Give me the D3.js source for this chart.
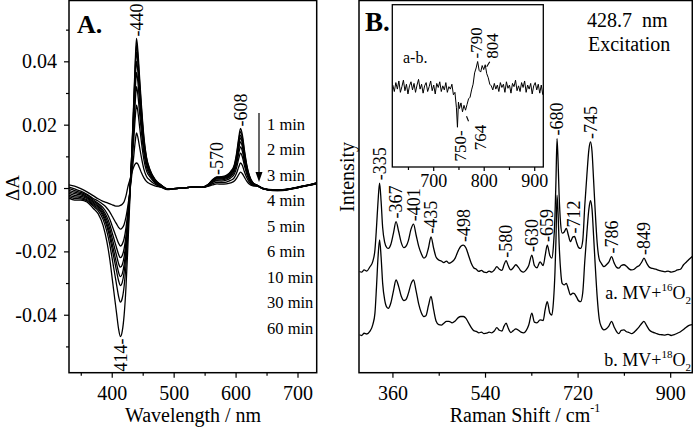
<!DOCTYPE html>
<html><head><meta charset="utf-8">
<script src="https://cdn.jsdelivr.net/npm/d3@7"></script>
<style>
body{margin:0;background:#fff;}
svg text{font-family:"Liberation Serif","Times New Roman",serif;fill:#000;}
</style></head><body>
<svg id="chart" width="693" height="428"></svg>
<script>
// ---------------- DATA ----------------
// Panel A: difference absorbance spectra (wavelength nm)
const wavelengths = [331,340,350,360,370,378,386,392,397,401,405,408,411,414,417,420,423,426,429,432,
  435,438,440,442,445,448,452,456,462,470,480,490,500,515,530,545,555,563,570,577,
  585,592,598,602,605,608,611,614,618,622,628,636,645,660,675,690,705,720,731];
const timeLabels = ["1 min","2 min","3 min","4 min","5 min","6 min","10 min","30 min","60 min"];
const dA1 = [0.0010,0.0006,-0.0002,-0.0012,-0.0024,-0.0034,-0.0042,-0.0046,-0.0050,-0.0053,
  -0.0056,-0.0057,-0.0057,-0.0055,-0.0051,-0.0043,-0.0025,0.0003,0.0024,0.0045,
  0.0064,0.0076,0.0079,0.0076,0.0063,0.0048,0.0032,0.0021,0.0013,0.0007,
  0.0002,-0.0005,-0.0002,0.0000,0.0003,0.0002,0.0005,0.0010,0.0013,0.0012,
  0.0013,0.0016,0.0022,0.0032,0.0042,0.0050,0.0045,0.0035,0.0022,0.0013,
  0.0007,0.0005,-0.0001,-0.0005,-0.0005,-0.0001,0.0005,0.0011,0.0016];
const dA2 = [0.0003,-0.0003,-0.0010,-0.0020,-0.0033,-0.0041,-0.0052,-0.0063,-0.0076,-0.0090,
  -0.0104,-0.0114,-0.0124,-0.0130,-0.0126,-0.0115,-0.0092,-0.0057,-0.0015,0.0034,
  0.0090,0.0148,0.0174,0.0162,0.0129,0.0096,0.0059,0.0037,0.0024,0.0012,
  0.0003,-0.0004,-0.0002,0.0000,0.0003,0.0002,0.0006,0.0014,0.0018,0.0017,
  0.0019,0.0024,0.0033,0.0049,0.0066,0.0079,0.0071,0.0053,0.0033,0.0019,
  0.0009,0.0006,-0.0002,-0.0006,-0.0006,-0.0002,0.0004,0.0010,0.0015];
const dA3 = [-0.0002,-0.0008,-0.0014,-0.0023,-0.0037,-0.0048,-0.0062,-0.0079,-0.0099,-0.0121,
  -0.0143,-0.0159,-0.0174,-0.0183,-0.0177,-0.0160,-0.0126,-0.0077,-0.0017,0.0054,
  0.0136,0.0223,0.0262,0.0244,0.0194,0.0144,0.0089,0.0055,0.0034,0.0016,
  0.0005,-0.0004,-0.0002,0.0000,0.0003,0.0002,0.0007,0.0018,0.0023,0.0022,
  0.0025,0.0032,0.0044,0.0067,0.0092,0.0110,0.0098,0.0073,0.0044,0.0025,
  0.0011,0.0006,-0.0003,-0.0007,-0.0006,-0.0003,0.0003,0.0009,0.0014];
const dA4 = [-0.0007,-0.0013,-0.0018,-0.0027,-0.0041,-0.0052,-0.0070,-0.0091,-0.0116,-0.0143,
  -0.0170,-0.0190,-0.0209,-0.0220,-0.0213,-0.0191,-0.0151,-0.0091,-0.0018,0.0066,
  0.0166,0.0272,0.0320,0.0298,0.0237,0.0176,0.0109,0.0067,0.0040,0.0019,
  0.0006,-0.0003,-0.0002,0.0000,0.0003,0.0002,0.0008,0.0020,0.0026,0.0026,
  0.0029,0.0037,0.0052,0.0079,0.0109,0.0130,0.0116,0.0086,0.0052,0.0029,
  0.0013,0.0007,-0.0002,-0.0006,-0.0007,-0.0002,0.0004,0.0010,0.0015];
const dA5 = [-0.0012,-0.0018,-0.0022,-0.0030,-0.0045,-0.0057,-0.0076,-0.0101,-0.0130,-0.0161,
  -0.0192,-0.0215,-0.0238,-0.0250,-0.0242,-0.0217,-0.0170,-0.0102,-0.0020,0.0076,
  0.0190,0.0310,0.0365,0.0339,0.0270,0.0201,0.0124,0.0077,0.0045,0.0021,
  0.0007,-0.0003,-0.0002,0.0000,0.0003,0.0002,0.0009,0.0022,0.0029,0.0029,
  0.0032,0.0041,0.0058,0.0089,0.0122,0.0146,0.0130,0.0096,0.0058,0.0032,
  0.0014,0.0007,-0.0003,-0.0007,-0.0007,-0.0003,0.0003,0.0009,0.0014];
const dA6 = [-0.0017,-0.0023,-0.0026,-0.0033,-0.0049,-0.0061,-0.0083,-0.0111,-0.0144,-0.0179,
  -0.0214,-0.0240,-0.0266,-0.0280,-0.0271,-0.0242,-0.0190,-0.0113,-0.0022,0.0083,
  0.0208,0.0340,0.0400,0.0372,0.0296,0.0220,0.0136,0.0084,0.0049,0.0023,
  0.0008,-0.0003,-0.0002,0.0000,0.0003,0.0002,0.0009,0.0023,0.0031,0.0031,
  0.0034,0.0044,0.0063,0.0096,0.0132,0.0158,0.0141,0.0104,0.0063,0.0035,
  0.0015,0.0007,-0.0002,-0.0006,-0.0006,-0.0002,0.0004,0.0010,0.0016];
const dA10 = [-0.0022,-0.0028,-0.0030,-0.0037,-0.0053,-0.0065,-0.0089,-0.0120,-0.0157,-0.0196,
  -0.0235,-0.0264,-0.0292,-0.0308,-0.0298,-0.0266,-0.0209,-0.0123,-0.0025,0.0090,
  0.0224,0.0366,0.0430,0.0400,0.0318,0.0237,0.0146,0.0090,0.0052,0.0025,
  0.0009,-0.0003,-0.0002,0.0000,0.0003,0.0002,0.0009,0.0024,0.0032,0.0032,
  0.0036,0.0047,0.0066,0.0101,0.0140,0.0167,0.0149,0.0110,0.0066,0.0037,
  0.0015,0.0007,-0.0003,-0.0008,-0.0007,-0.0003,0.0003,0.0009,0.0015];
const dA30 = [-0.0027,-0.0033,-0.0034,-0.0040,-0.0057,-0.0071,-0.0099,-0.0136,-0.0180,-0.0226,
  -0.0273,-0.0307,-0.0341,-0.0360,-0.0348,-0.0310,-0.0243,-0.0144,-0.0032,0.0092,
  0.0235,0.0384,0.0452,0.0420,0.0334,0.0249,0.0154,0.0095,0.0055,0.0026,
  0.0009,-0.0003,-0.0002,0.0000,0.0003,0.0002,0.0010,0.0025,0.0034,0.0034,
  0.0038,0.0050,0.0070,0.0108,0.0149,0.0178,0.0159,0.0117,0.0070,0.0039,
  0.0016,0.0007,-0.0002,-0.0007,-0.0006,-0.0002,0.0004,0.0011,0.0015];
const dA60 = [-0.0032,-0.0038,-0.0038,-0.0044,-0.0064,-0.0081,-0.0118,-0.0168,-0.0227,-0.0289,
  -0.0352,-0.0398,-0.0444,-0.0469,-0.0452,-0.0402,-0.0314,-0.0188,-0.0049,0.0092,
  0.0245,0.0401,0.0472,0.0439,0.0349,0.0260,0.0160,0.0099,0.0057,0.0027,
  0.0009,-0.0003,-0.0002,0.0000,0.0003,0.0002,0.0010,0.0027,0.0035,0.0036,
  0.0040,0.0052,0.0074,0.0114,0.0157,0.0188,0.0167,0.0124,0.0074,0.0041,
  0.0017,0.0008,-0.0003,-0.0007,-0.0008,-0.0003,0.0003,0.0010,0.0016];
const peakLabelsA = [440, 570, 608];
const troughLabelsA = [414];
const xTicksA = [400,500,600,700], xMinorA = [350,450,550,650];
const yTicksA = [-0.04,-0.02,0.00,0.02,0.04], yMinorA = [-0.05,-0.03,-0.01,0.01,0.03,0.05];

// Panel B: resonance Raman spectra (arbitrary intensity units)
const ramanShift = [296,300,305,310,316,322,326,329,332,335,
  338,341,345,349,352,357,362,367,372,377,
  382,386,391,396,401,406,411,416,421,425,
  430,435,440,445,450,455,460,465,470,476,
  482,488,493,498,503,508,513,518,523,528,
  533,538,543,548,553,558,563,568,573,577,
  581,585,590,595,600,605,610,615,620,625,
  631,636,641,647,653,657,661,666,670,673,
  676,678,680,682,684,687,690,694,698,702,
  706,711,714,718,722,726,730,734,738,742,
  745,748,751,754,758,762,766,771,776,781,
  786,791,796,800,805,810,815,820,825,830,
  835,840,845,849,854,860,866,872,878,884,
  890,896,902,908,914,920,926,932,938,943];
const ramanA = [27.2,27.0,27.6,27.3,28.4,30.0,33.0,39.0,46.0,50.9,
  46.0,39.0,35.0,33.6,33.4,34.5,37.5,40.6,38.0,35.0,
  33.6,33.9,35.5,38.5,39.9,37.0,34.0,32.0,30.8,31.2,
  33.5,36.5,33.5,31.0,30.3,30.0,29.6,30.0,29.4,29.8,
  30.8,32.8,34.0,34.3,33.5,31.5,29.5,28.2,27.8,27.2,
  27.5,27.0,26.9,27.3,27.0,27.6,28.5,27.8,27.5,29.0,
  30.1,28.8,27.6,28.2,29.0,28.3,27.3,27.0,27.6,28.8,
  31.6,28.8,28.2,29.8,28.8,31.5,34.3,31.5,30.8,34.0,
  42.0,52.0,62.9,57.0,48.0,40.0,37.5,37.8,38.8,37.0,
  35.2,36.5,36.6,35.0,33.6,33.4,35.5,45.0,53.0,60.0,
  62.0,59.5,52.0,44.0,35.0,30.5,29.4,28.5,29.0,29.8,
  31.2,29.5,28.3,28.1,28.8,29.0,28.6,27.9,27.6,27.8,
  28.4,28.8,29.8,30.8,29.5,28.3,28.0,27.8,27.5,27.3,
  27.1,27.3,27.0,27.2,27.6,27.8,29.0,29.8,30.6,31.2];
const ramanB = [10.2,10.0,10.6,10.4,11.1,13.0,16.0,23.0,31.0,35.7,
  31.0,24.0,19.5,17.6,17.3,18.8,22.0,24.9,23.2,20.6,
  19.4,19.6,21.3,23.8,24.9,22.0,18.5,16.2,15.1,15.3,
  18.0,20.5,17.0,13.8,12.9,12.8,13.3,13.8,13.8,13.4,
  13.9,14.8,15.1,15.1,14.6,13.4,12.2,11.3,11.1,10.7,
  10.9,10.5,10.6,10.9,10.7,11.2,12.1,11.4,11.2,12.5,
  13.3,12.0,10.8,11.3,11.8,11.4,10.9,10.7,11.3,12.8,
  16.0,13.6,13.4,14.2,14.0,17.0,19.1,16.0,15.5,19.0,
  27.0,36.0,47.7,43.0,35.0,27.5,24.0,23.6,24.0,22.5,
  20.9,21.4,21.2,20.3,19.3,19.1,21.5,30.0,37.5,44.0,
  46.2,44.0,37.0,29.5,20.5,14.5,12.4,11.5,11.8,12.6,
  13.8,12.3,11.0,10.5,11.4,11.5,11.0,10.8,10.5,10.9,
  11.6,12.4,13.3,13.8,12.7,11.4,10.9,10.6,10.3,10.2,
  10.1,10.3,10.0,10.2,10.6,11.0,11.6,12.3,12.8,12.9];
const peakLabelsB = [335,367,401,435,498,580,630,659,680,712,745,786,849];
const xTicksB = [360,540,720,900], xMinorB = [450,630,810];

// Inset: difference spectrum a-b
const insetShift = [620,623,626,629,632,635,638,641,644,647,650,653,656,659,662,665,668,671,674,677,
  680,683,686,689,692,695,698,701,704,707,710,713,716,719,722,725,728,731,734,737,
  740,743,746,748,750,752,755,758,761,764,767,770,773,776,779,782,785,788,791,794,
  797,800,803,806,809,812,815,818,821,824,827,830,833,836,839,842,845,848,851,854,
  857,860,863,866,869,872,875,878,881,884,887,890,893,896,899,902,905,908,911,914,917];
const insetDiff = [0.3,-0.5,0.6,-0.2,0.8,-0.6,0.1,0.9,-0.4,0.4,-0.8,0.2,0.7,-0.3,0.5,-0.6,0.3,1.0,-0.2,0.4,
  -0.7,0.2,0.6,-0.5,0.1,0.8,-0.4,0.3,-0.8,0.5,0.0,0.7,-0.5,0.2,-0.3,0.6,-0.6,0.1,-0.2,0.4,
  -0.9,-0.6,-2.5,-4.9,-1.8,-2.6,-1.9,-3.0,-2.2,-2.8,-2.1,-1.4,-1.2,-0.3,0.4,1.8,2.4,3.2,2.1,1.9,
  2.7,2.2,2.8,1.7,1.2,0.4,0.2,-0.3,0.5,-0.2,0.3,-0.5,0.6,0.0,0.4,-0.6,0.7,-0.1,0.3,-0.7,
  0.5,0.1,0.9,-0.4,0.2,-0.5,0.6,0.0,0.8,-0.6,0.3,-0.2,0.5,-0.8,0.2,0.6,-0.3,0.4,-0.7,0.3,-0.9];
const xTicksI = [700,800,900], xMinorI = [650,750,850];

// ---------------- DRAW ----------------
const svg = d3.select("#chart");
const FONT = '"Liberation Serif","Times New Roman",serif';
const curvesA = [dA1,dA2,dA3,dA4,dA5,dA6,dA10,dA30,dA60];

// scales
const xA = d3.scaleLinear().domain([331,731]).range([69,316.7]);
const yA = d3.scaleLinear().domain([-0.0583,0.0592]).range([372.7,0.5]);
const xB = d3.scaleLinear().domain([295,943]).range([359,692.3]);
const yB = d3.scaleLinear().domain([0,100]).range([372.7,0.5]);
const xI = d3.scaleLinear().domain([619,918]).range([392.3,543.3]);
const yI = d3.scaleLinear().domain([-9.8,10.2]).range([167,4.7]);

function styleAxis(g, size){
  g.select(".domain").remove();
  g.attr("font-family", FONT).attr("font-size", size);
  g.selectAll(".tick line").attr("stroke","#000").attr("stroke-width",1.2);
  g.selectAll(".tick text").attr("fill","#000");
}
const hy = s => s.replace("\u2212","-");

// Panel A axes
svg.append("g").attr("transform","translate(0,372.7)")
  .call(d3.axisBottom(xA).tickValues(xTicksA).tickSize(5).tickPadding(8).tickFormat(d3.format("d")))
  .call(g=>styleAxis(g,20));
svg.append("g").attr("transform","translate(0,372.7)")
  .call(d3.axisBottom(xA).tickValues(xMinorA).tickSize(3).tickFormat(""))
  .call(g=>styleAxis(g,20));
svg.append("g").attr("transform","translate(69,0)")
  .call(d3.axisLeft(yA).tickValues(yTicksA).tickSize(5).tickPadding(7).tickFormat(d=>hy(d3.format(".2f")(d))))
  .call(g=>styleAxis(g,20));
svg.append("g").attr("transform","translate(69,0)")
  .call(d3.axisLeft(yA).tickValues(yMinorA).tickSize(3).tickFormat(""))
  .call(g=>styleAxis(g,20));

// Panel A curves
svg.append("clipPath").attr("id","clipA").append("rect")
  .attr("x",xA.range()[0]).attr("y",yA.range()[1]).attr("width",xA.range()[1]-xA.range()[0]).attr("height",yA.range()[0]-yA.range()[1]);
const lineA = d3.line().x((d,i)=>xA(wavelengths[i])).y(d=>yA(d)).curve(d3.curveMonotoneX);
svg.append("g").attr("clip-path","url(#clipA)").selectAll("path").data(curvesA).join("path")
  .attr("d", lineA).attr("fill","none").attr("stroke","#000").attr("stroke-width",1.3);

// Panel A frame
svg.append("rect").attr("x",xA.range()[0]).attr("y",yA.range()[1])
  .attr("width",xA.range()[1]-xA.range()[0]).attr("height",yA.range()[0]-yA.range()[1])
  .attr("fill","none").attr("stroke","#000").attr("stroke-width",1.5);

// Panel A peak labels
peakLabelsA.forEach(w=>{
  const i = wavelengths.indexOf(w);
  const top = d3.max(curvesA, c=>c[i]);
  const px = xA(w), py = yA(top) - 2;
  svg.append("text").attr("transform",`translate(${px},${py}) rotate(-90)`)
    .attr("dy","0.35em").attr("font-size",18).text("-"+w);
});
troughLabelsA.forEach(w=>{
  const i = wavelengths.indexOf(w);
  const bot = d3.min(curvesA, c=>c[i]);
  const px = xA(w), py = yA(bot) + 2;
  svg.append("text").attr("transform",`translate(${px},${py}) rotate(-90)`)
    .attr("dy","0.35em").attr("text-anchor","end").attr("font-size",18).text(w+"-");
});

// Panel A legend (time labels) + arrow
svg.append("g").selectAll("text").data(timeLabels).join("text")
  .attr("x",267).attr("y",(d,i)=>129.5+i*25.5).attr("font-size",16.5).text(d=>d);
svg.append("line").attr("x1",259).attr("x2",259).attr("y1",113).attr("y2",173)
  .attr("stroke","#000").attr("stroke-width",1.2);
svg.append("path").attr("d","M255.5,172 L262.5,172 L259,182 Z").attr("fill","#000");

// Panel A titles
svg.append("text").attr("x",77).attr("y",33).attr("font-size",26).attr("font-weight","bold").text("A.");
svg.append("text").attr("x",193).attr("y",421.7).attr("text-anchor","middle").attr("font-size",20).text("Wavelength / nm");
svg.append("text").attr("transform","translate(12,188) rotate(-90)").attr("dy","0.35em")
  .attr("text-anchor","middle").attr("font-size",19).text("\u0394A");

// Panel B axes
svg.append("g").attr("transform","translate(0,372.7)")
  .call(d3.axisBottom(xB).tickValues(xTicksB).tickSize(5).tickPadding(8).tickFormat(d3.format("d")))
  .call(g=>styleAxis(g,20));
svg.append("g").attr("transform","translate(0,372.7)")
  .call(d3.axisBottom(xB).tickValues(xMinorB).tickSize(3).tickFormat(""))
  .call(g=>styleAxis(g,20));

// Panel B spectra
svg.append("clipPath").attr("id","clipB").append("rect")
  .attr("x",xB.range()[0]).attr("y",yB.range()[1]).attr("width",xB.range()[1]-xB.range()[0]).attr("height",yB.range()[0]-yB.range()[1]);
const lineB = d3.line().x((d,i)=>xB(ramanShift[i])).y(d=>yB(d)).curve(d3.curveMonotoneX);
svg.append("g").attr("clip-path","url(#clipB)").selectAll("path").data([ramanA, ramanB]).join("path")
  .attr("d", lineB).attr("fill","none").attr("stroke","#000").attr("stroke-width",1.3);

svg.append("rect").attr("x",xB.range()[0]).attr("y",yB.range()[1])
  .attr("width",xB.range()[1]-xB.range()[0]).attr("height",yB.range()[0]-yB.range()[1])
  .attr("fill","none").attr("stroke","#000").attr("stroke-width",1.5);

// Panel B peak labels
peakLabelsB.forEach(v=>{
  let best = 0;
  ramanShift.forEach((s,i)=>{ if (Math.abs(s-v)<=4) best = Math.max(best, ramanA[i]); });
  svg.append("text").attr("transform",`translate(${xB(v)},${yB(best)-3}) rotate(-90)`)
    .attr("dy","0.35em").attr("font-size",18).text("-"+v);
});

// Panel B texts
svg.append("text").attr("x",365).attr("y",31).attr("font-size",27).attr("font-weight","bold").text("B.");
svg.append("text").attr("x",587).attr("y",27).attr("font-size",20).text("428.7\u00a0 nm");
svg.append("text").attr("x",588).attr("y",51).attr("font-size",20).text("Excitation");
svg.append("text").attr("transform","translate(347,177) rotate(-90)").attr("dy","0.35em")
  .attr("text-anchor","middle").attr("font-size",20).text("Intensity");
const tRS = svg.append("text").attr("x",525).attr("y",421.7).attr("text-anchor","middle").attr("font-size",20);
tRS.append("tspan").text("Raman Shift / cm");
tRS.append("tspan").attr("font-size",12).attr("dy",-10).text("-1");

function specLabel(y, letter, iso){
  const t = svg.append("text").attr("x",691).attr("y",y).attr("text-anchor","end").attr("font-size",18);
  t.append("tspan").text(letter+". MV+");
  t.append("tspan").attr("font-size",11).attr("dy",-8).text(iso);
  t.append("tspan").attr("dy",8).text("O");
  t.append("tspan").attr("font-size",11).attr("dy",5).text("2");
}
specLabel(299, "a", "16");
specLabel(365.7, "b", "18");

// Inset
svg.append("g").attr("transform",`translate(0,${yI.range()[0]})`)
  .call(d3.axisBottom(xI).tickValues(xTicksI).tickSize(4).tickPadding(3).tickFormat(d3.format("d")))
  .call(g=>styleAxis(g,18));
svg.append("g").attr("transform",`translate(0,${yI.range()[0]})`)
  .call(d3.axisBottom(xI).tickValues(xMinorI).tickSize(3).tickFormat(""))
  .call(g=>styleAxis(g,18));
const lineI = d3.line().x((d,i)=>xI(insetShift[i])).y(d=>yI(d));
svg.append("path").datum(insetDiff).attr("d",lineI).attr("fill","none").attr("stroke","#000").attr("stroke-width",1);
svg.append("rect").attr("x",xI.range()[0]).attr("y",yI.range()[1])
  .attr("width",xI.range()[1]-xI.range()[0]).attr("height",yI.range()[0]-yI.range()[1])
  .attr("fill","none").attr("stroke","#000").attr("stroke-width",1.3);
svg.append("text").attr("x",403).attr("y",63).attr("font-size",16).text("a-b.");
// inset labels
const iv = v => insetDiff[insetShift.indexOf(v)];
svg.append("text").attr("transform",`translate(${xI(788)-2},${yI(iv(788))-3}) rotate(-90)`)
  .attr("dy","0.35em").attr("font-size",17).text("-790");
svg.append("text").attr("transform",`translate(${xI(804)+6},${yI(iv(803))-6}) rotate(-90)`)
  .attr("dy","0.35em").attr("font-size",17).text("804");
svg.append("line").attr("x1",xI(804)+1).attr("y1",yI(iv(803))+2).attr("x2",xI(804)+4).attr("y2",yI(iv(803))-3)
  .attr("stroke","#000").attr("stroke-width",1.1);
svg.append("text").attr("transform",`translate(${xI(750)+2},${yI(iv(748))+3}) rotate(-90)`)
  .attr("dy","0.35em").attr("text-anchor","end").attr("font-size",17).text("750-");
svg.append("text").attr("transform",`translate(${xI(764)+15},${yI(iv(764))+40}) rotate(-90)`)
  .attr("dy","0.35em").attr("font-size",17).text("764");
svg.append("line").attr("x1",xI(764)+1).attr("y1",yI(iv(764))+6).attr("x2",xI(764)+3).attr("y2",yI(iv(764))+11)
  .attr("stroke","#000").attr("stroke-width",1.1);
</script>
</body></html>
